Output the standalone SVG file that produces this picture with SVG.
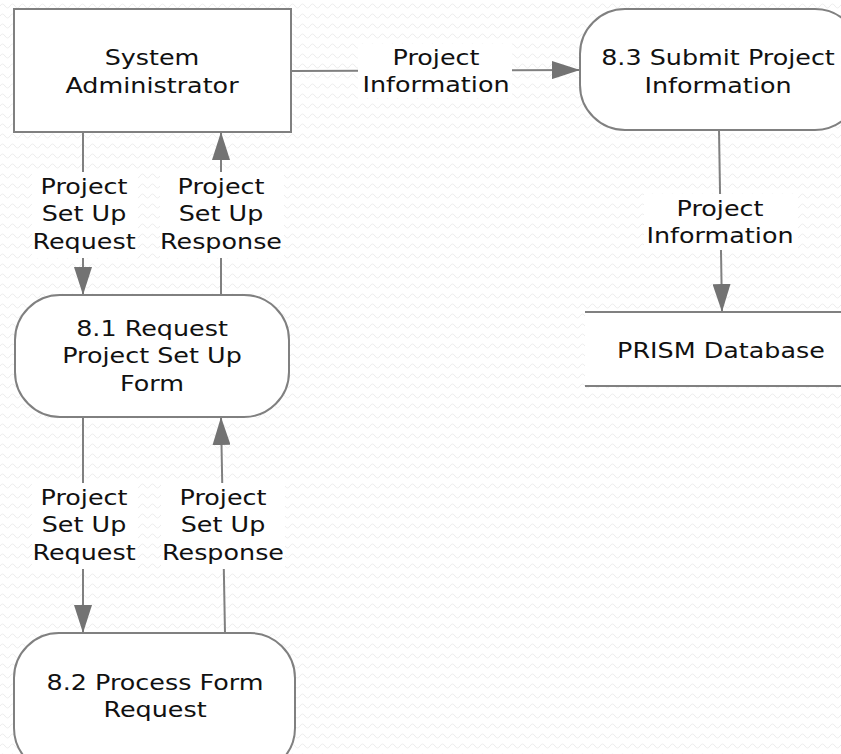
<svg xmlns="http://www.w3.org/2000/svg" width="841" height="754" viewBox="0 0 841 754">
<defs>
<pattern id="bg" width="10" height="10" patternUnits="userSpaceOnUse">
<path d="M0 6 Q2.5 2 5 6 T10 6" fill="none" stroke="#ececec" stroke-width="1"/>
</pattern>
<marker id="arr" viewBox="0 0 28 18" refX="28" refY="9" markerWidth="28" markerHeight="18" markerUnits="userSpaceOnUse" orient="auto">
<path d="M0 0 L28 9 L0 18 Z" fill="#737373"/>
</marker>
</defs>
<style>
.box{fill:#fff;stroke:#808080;stroke-width:2}
.ln{fill:none;stroke:#808080;stroke-width:2}
.lbg{fill:#fff}
text{font-family:"DejaVu Sans","Verdana",sans-serif;font-size:20.5px;fill:#111;text-anchor:middle}
</style>
<rect width="841" height="754" fill="#fff"/>
<rect width="841" height="754" fill="url(#bg)"/>

<g id="connectors">
<line class="ln" x1="291" y1="71" x2="580" y2="70" marker-end="url(#arr)"/>
<line class="ln" x1="719" y1="130" x2="722" y2="312" marker-end="url(#arr)"/>
<line class="ln" x1="83" y1="132" x2="83" y2="295" marker-end="url(#arr)"/>
<line class="ln" x1="221" y1="295" x2="221" y2="132" marker-end="url(#arr)"/>
<line class="ln" x1="83" y1="417" x2="83" y2="633" marker-end="url(#arr)"/>
<line class="ln" x1="225" y1="633" x2="221" y2="417" marker-end="url(#arr)"/>

<g id="lbl-sa-83">
<rect class="lbg" x="358" y="44" width="154" height="54"/>
<text transform="translate(436,0) scale(1.24,1)"><tspan x="0" y="65">Project</tspan><tspan x="0" y="92">Information</tspan></text>
</g>
<g id="lbl-83-db">
<rect class="lbg" x="644" y="194" width="154" height="56"/>
<text transform="translate(720,0) scale(1.24,1)"><tspan x="0" y="216">Project</tspan><tspan x="0" y="243">Information</tspan></text>
</g>
<g id="lbl-sa-81">
<rect class="lbg" x="32" y="172" width="106" height="86"/>
<text transform="translate(84,0) scale(1.24,1)"><tspan x="0" y="194">Project</tspan><tspan x="0" y="221.5">Set Up</tspan><tspan x="0" y="249">Request</tspan></text>
</g>
<g id="lbl-81-sa">
<rect class="lbg" x="160" y="172" width="124" height="86"/>
<text transform="translate(221,0) scale(1.24,1)"><tspan x="0" y="194">Project</tspan><tspan x="0" y="221.5">Set Up</tspan><tspan x="0" y="249">Response</tspan></text>
</g>
<g id="lbl-81-82">
<rect class="lbg" x="32" y="483" width="106" height="86"/>
<text transform="translate(84,0) scale(1.24,1)"><tspan x="0" y="505">Project</tspan><tspan x="0" y="532.5">Set Up</tspan><tspan x="0" y="560">Request</tspan></text>
</g>
<g id="lbl-82-81">
<rect class="lbg" x="161" y="483" width="124" height="86"/>
<text transform="translate(223,0) scale(1.24,1)"><tspan x="0" y="505">Project</tspan><tspan x="0" y="532.5">Set Up</tspan><tspan x="0" y="560">Response</tspan></text>
</g>
</g>

<g id="system-administrator">
<rect class="box" x="14" y="9" width="277" height="123"/>
<text transform="translate(152,0) scale(1.24,1)"><tspan x="0" y="65">System</tspan><tspan x="0" y="93">Administrator</tspan></text>
</g>

<g id="p83">
<rect class="box" x="580" y="9" width="280" height="121" rx="45" ry="45"/>
<text transform="translate(718,0) scale(1.24,1)"><tspan x="0" y="65">8.3 Submit Project</tspan><tspan x="0" y="93">Information</tspan></text>
</g>

<g id="prism-database">
<rect x="585" y="312" width="260" height="74" fill="#fff"/>
<line class="ln" x1="585" y1="312" x2="845" y2="312"/>
<line class="ln" x1="585" y1="386" x2="845" y2="386"/>
<text transform="translate(721,0) scale(1.24,1)" x="0" y="358">PRISM Database</text>
</g>

<g id="p81">
<rect class="box" x="15" y="295" width="274" height="122" rx="45" ry="45"/>
<text transform="translate(152,0) scale(1.24,1)"><tspan x="0" y="336">8.1 Request</tspan><tspan x="0" y="363.5">Project Set Up</tspan><tspan x="0" y="391">Form</tspan></text>
</g>

<g id="p82">
<rect class="box" x="14" y="633" width="281" height="140" rx="45" ry="45"/>
<text transform="translate(155,0) scale(1.24,1)"><tspan x="0" y="690">8.2 Process Form</tspan><tspan x="0" y="717">Request</tspan></text>
</g>
</svg>
